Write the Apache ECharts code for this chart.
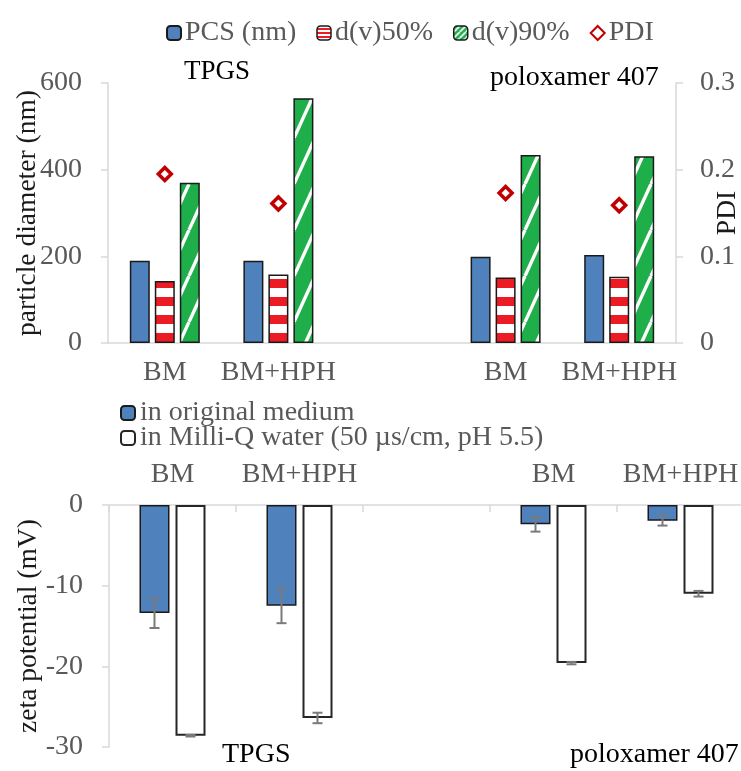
<!DOCTYPE html>
<html><head><meta charset="utf-8">
<script src="https://cdn.jsdelivr.net/npm/echarts@6/dist/echarts.min.js"></script>
<style>html,body{margin:0;padding:0;background:#fff}#c{width:741px;height:771px}</style>
</head><body><div id="c"></div>
<script>
// ---- data ----
const categories = ['BM', 'BM+HPH', '', 'BM', 'BM+HPH'];
const pcs = [190, 190, null, 199, 203];
const d50 = [143, 158, null, 151, 153];
const d90 = [370, 565, null, 434, 431];
const pdi = [0.195, 0.161, null, 0.173, 0.159];
const zetaOrig = [-13.4, -12.5, null, -2.4, -1.95];
const zetaOrigErr = [1.85, 2.15, null, 0.9, 0.6];
const zetaWater = [-28.6, -26.4, null, -19.6, -11.0];
const zetaWaterErr = [0.1, 0.65, null, 0.15, 0.35];
const diameterTicks = [0, 200, 400, 600];
const pdiTicks = [0, 0.1, 0.2, 0.3];
const zetaTicks = [-30, -20, -10, 0];

// ---- patterns ----
function stripePattern(h) {
  const c = document.createElement('canvas');
  c.width = 10; c.height = 2 * h;
  const g = c.getContext('2d');
  g.fillStyle = '#ffffff'; g.fillRect(0, 0, 10, h);
  g.fillStyle = '#ED1C24'; g.fillRect(0, h, 10, h);
  return c;
}
function diagPattern(W, H, lw) {
  const c = document.createElement('canvas');
  c.width = W; c.height = H;
  const g = c.getContext('2d');
  g.fillStyle = '#1FAF4A'; g.fillRect(0, 0, W, H);
  g.strokeStyle = '#ffffff'; g.lineWidth = lw;
  for (let k = -1; k <= 1; k++) {
    g.beginPath(); g.moveTo(k * W, H); g.lineTo(k * W + W, 0); g.stroke();
  }
  return c;
}
const redFill = { image: stripePattern(9), repeat: 'repeat' };
const greenFill = { image: diagPattern(21, 46, 3.4), repeat: 'repeat' };
const redIcon = { image: stripePattern(2), repeat: 'repeat' };
const greenIcon = { image: diagPattern(6, 6, 1.6), repeat: 'repeat' };

const FONT = 'Liberation Serif';
const GRAY = '#595959';
const AXISC = '#d9d9d9';
const BW2 = 30, GAP2 = 0.2; // bottom bar width / gap ratio

function errSeries(vals, errs, side) {
  const off = side * (BW2 / 2 + BW2 * GAP2 / 2);
  return {
    type: 'custom', xAxisIndex: 1, yAxisIndex: 2, silent: true, z: 10,
    encode: { x: 0, y: [1, 2] },
    data: vals.map((v, i) => v == null ? null : [i, v - errs[i], v + errs[i]]).filter(Boolean),
    renderItem(params, api) {
      const x = api.value(0);
      const lo = api.coord([x, api.value(1)]);
      const hi = api.coord([x, api.value(2)]);
      const cx = lo[0] + off, hw = 5;
      const st = { stroke: '#7a7a7a', lineWidth: 2 };
      return { type: 'group', children: [
        { type: 'line', shape: { x1: cx, y1: lo[1], x2: cx, y2: hi[1] }, style: st },
        { type: 'line', shape: { x1: cx - hw, y1: lo[1], x2: cx + hw, y2: lo[1] }, style: st },
        { type: 'line', shape: { x1: cx - hw, y1: hi[1], x2: cx + hw, y2: hi[1] }, style: st }
      ]};
    }
  };
}

const chart = echarts.init(document.getElementById('c'), null, { renderer: 'canvas' });
const txt = { fontFamily: FONT, fontSize: 28, color: GRAY };
const titleStyle = { fontFamily: FONT, fontSize: 27.5, color: '#1a1a1a' };
chart.setOption({
  animation: false,
  backgroundColor: '#fff',
  textStyle: { fontFamily: FONT },
  legend: [
    { data: [
        { name: 'PCS (nm)' },
        { name: 'd(v)50%', itemStyle: { color: redIcon, borderColor: '#1a1a1a', borderWidth: 1.5 } },
        { name: 'd(v)90%', itemStyle: { color: greenIcon, borderColor: '#1a1a1a', borderWidth: 1.5 } },
        { name: 'PDI' }
      ], left: 161, top: 14,
      itemWidth: 14, itemHeight: 14, itemGap: 20, textStyle: Object.assign({}, txt, { padding: [0, 0, 0, -1] }) },
    { data: ['in original medium', 'in Milli-Q water (50 µs/cm, pH 5.5)'], orient: 'vertical',
      left: 115, top: 394, itemWidth: 14, itemHeight: 14, itemGap: -3, textStyle: Object.assign({}, txt) }
  ],
  grid: [
    { left: 108, right: 65, top: 83, bottom: 428, outerBoundsMode: 'none', containLabel: false },
    { left: 109, right: -3, top: 505, bottom: 24, outerBoundsMode: 'none', containLabel: false }
  ],
  xAxis: [
    { type: 'category', gridIndex: 0, data: categories,
      axisLine: { lineStyle: { color: AXISC, width: 1.5 } }, axisTick: { show: false },
      axisLabel: Object.assign({ margin: 16, interval: 0 }, txt) },
    { type: 'category', gridIndex: 1, data: categories, position: 'top',
      axisLine: { lineStyle: { color: AXISC, width: 1.5 } },
      axisTick: { show: true, inside: true, length: 7, lineStyle: { color: AXISC, width: 1.5 } },
      axisLabel: Object.assign({ margin: 16, interval: 0 }, txt) }
  ],
  yAxis: [
    { type: 'value', gridIndex: 0, min: diameterTicks[0], max: diameterTicks[3], interval: 200,
      name: 'particle diameter (nm)', nameLocation: 'middle', nameRotate: 90, nameGap: 66, nameMoveOverlap: false,
      nameTextStyle: titleStyle,
      axisLine: { show: true, lineStyle: { color: AXISC, width: 1.5 } },
      axisTick: { show: true, length: 7, lineStyle: { color: AXISC, width: 1.5 } },
      splitLine: { show: false }, axisLabel: Object.assign({ margin: 26 }, txt) },
    { type: 'value', gridIndex: 0, position: 'right', min: pdiTicks[0], max: pdiTicks[3], interval: 0.1,
      name: 'PDI', nameLocation: 'middle', nameRotate: 90, nameGap: 38, nameMoveOverlap: false,
      nameTextStyle: titleStyle,
      axisLine: { show: true, lineStyle: { color: AXISC, width: 1.5 } },
      axisTick: { show: true, length: 7, lineStyle: { color: AXISC, width: 1.5 } },
      splitLine: { show: false }, axisLabel: Object.assign({ margin: 24 }, txt) },
    { type: 'value', gridIndex: 1, min: zetaTicks[0], max: zetaTicks[3], interval: 10,
      name: 'zeta potential (mV)', nameLocation: 'middle', nameRotate: 90, nameGap: 66, nameMoveOverlap: false,
      nameTextStyle: titleStyle,
      axisLine: { show: true, lineStyle: { color: AXISC, width: 1.5 } },
      axisTick: { show: true, length: 7, lineStyle: { color: AXISC, width: 1.5 } },
      splitLine: { show: false }, axisLabel: Object.assign({ margin: 26 }, txt) }
  ],
  series: [
    { name: 'PCS (nm)', type: 'bar', xAxisIndex: 0, yAxisIndex: 0, data: pcs, barWidth: 20, barGap: '25%',
      itemStyle: { color: '#4F81BD', borderColor: '#1a1a1a', borderWidth: 1.5 } },
    { name: 'd(v)50%', type: 'bar', xAxisIndex: 0, yAxisIndex: 0, data: d50, barWidth: 20, barGap: '25%',
      itemStyle: { color: redFill, borderColor: '#1a1a1a', borderWidth: 1.5 } },
    { name: 'd(v)90%', type: 'bar', xAxisIndex: 0, yAxisIndex: 0, data: d90, barWidth: 20, barGap: '25%',
      itemStyle: { color: greenFill, borderColor: '#1a1a1a', borderWidth: 1.5 } },
    { name: 'PDI', type: 'scatter', xAxisIndex: 0, yAxisIndex: 1, data: pdi, symbol: 'diamond', symbolSize: 13,
      itemStyle: { color: '#ffffff', borderColor: '#C00000', borderWidth: 3.5, opacity: 1 }, z: 5 },
    { name: 'in original medium', type: 'bar', xAxisIndex: 1, yAxisIndex: 2, data: zetaOrig,
      barWidth: BW2, barGap: (GAP2 * 100) + '%',
      itemStyle: { color: '#4F81BD', borderColor: '#1a1a1a', borderWidth: 1.5 } },
    { name: 'in Milli-Q water (50 µs/cm, pH 5.5)', type: 'bar', xAxisIndex: 1, yAxisIndex: 2, data: zetaWater,
      barWidth: BW2, barGap: (GAP2 * 100) + '%',
      itemStyle: { color: '#ffffff', borderColor: '#262626', borderWidth: 2 } },
    errSeries(zetaOrig, zetaOrigErr, -1),
    errSeries(zetaWater, zetaWaterErr, 1)
  ],
  graphic: [
    { type: 'text', left: 184, top: 58, style: { text: 'TPGS', fontFamily: FONT, fontSize: 27, fill: '#000' } },
    { type: 'text', left: 490, top: 64, style: { text: 'poloxamer 407', fontFamily: FONT, fontSize: 28, fill: '#000' } },
    { type: 'text', left: 222, top: 741, style: { text: 'TPGS', fontFamily: FONT, fontSize: 28, fill: '#000' } },
    { type: 'text', left: 570, top: 741, style: { text: 'poloxamer 407', fontFamily: FONT, fontSize: 28, fill: '#000' } }
  ]
});
</script></body></html>
